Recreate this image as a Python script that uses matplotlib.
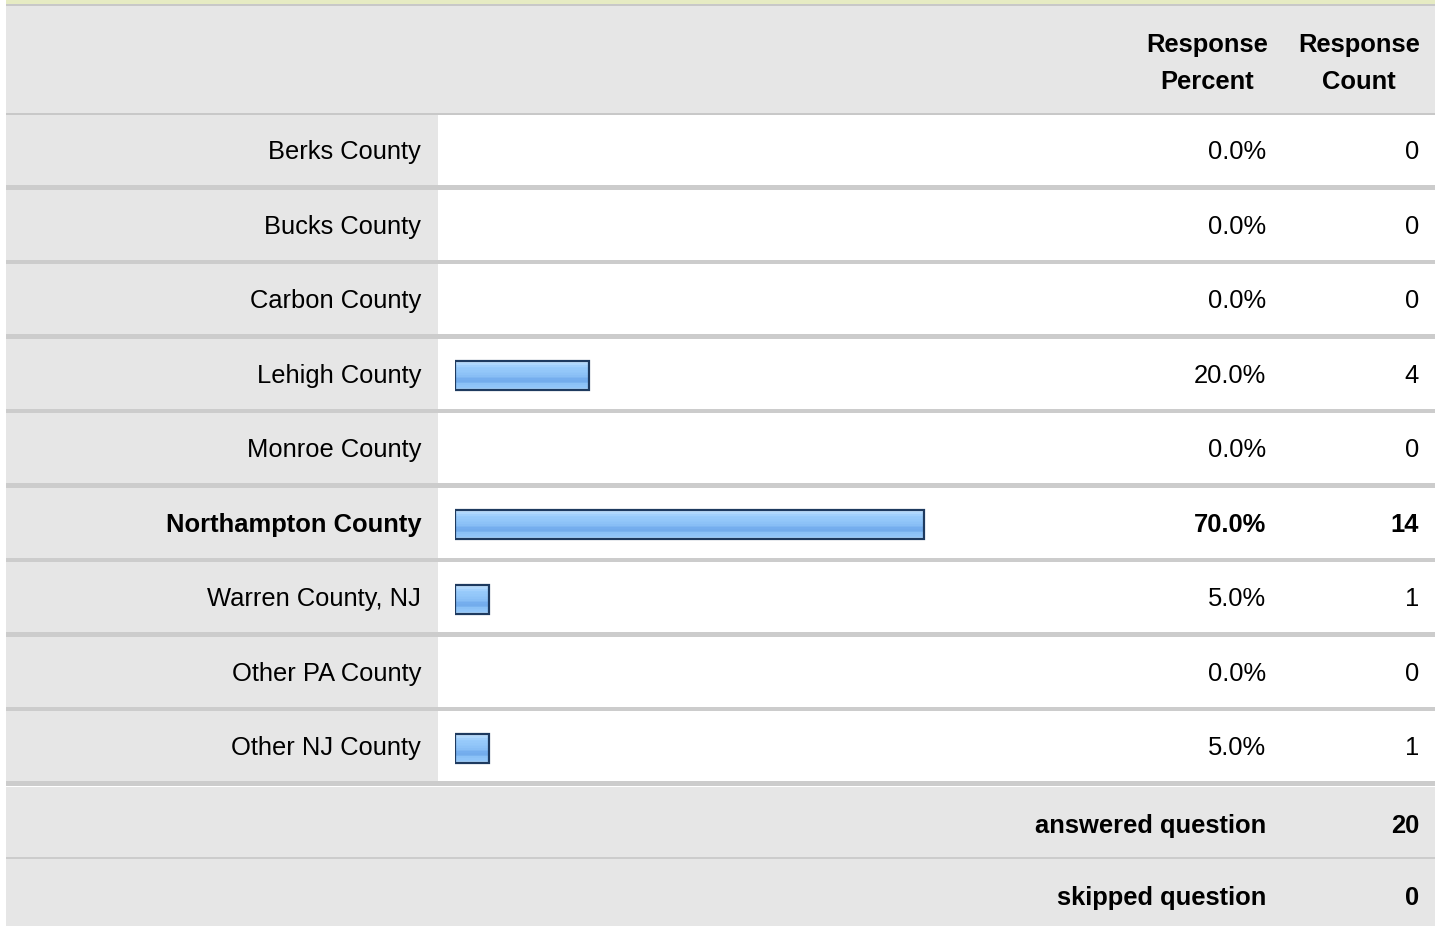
import matplotlib
matplotlib.use("Agg")
import matplotlib.pyplot as plt
import matplotlib.transforms as mtransforms
from matplotlib.patches import Rectangle
from matplotlib.colors import ListedColormap
import numpy as np

# ---------------- data ----------------
categories = ["Berks County", "Bucks County", "Carbon County", "Lehigh County",
              "Monroe County", "Northampton County", "Warren County, NJ",
              "Other PA County", "Other NJ County"]
percents = [0.0, 0.0, 0.0, 20.0, 0.0, 70.0, 5.0, 0.0, 5.0]
counts = [0, 0, 0, 4, 0, 14, 1, 0, 1]
highlight = "Northampton County"
header_percent = ["Response", "Percent"]
header_count = ["Response", "Count"]
answered_label, answered_value = "answered question", 20
skipped_label, skipped_value = "skipped question", 0

# ---------------- style ----------------
plt.rcParams["font.family"] = ["Liberation Sans", "DejaVu Sans"]
FS = 18.4
W, H = 1442, 926
GRAY = "#e6e6e6"
SEP = "#cccccc"

fig = plt.figure(figsize=(W / 100, H / 100), dpi=100)
fig.patch.set_facecolor("white")

# background / layout axes in pixel coordinates
bg = fig.add_axes([0, 0, 1, 1])
bg.set_xlim(0, W)
bg.set_ylim(H, 0)
bg.axis("off")

L, R = 6, 1435
LABEL_R = 438
TOP_BODY = 115
row_pitch = 74.5
n = len(categories)
BODY_END = 782

def rect(x0, y0, x1, y1, color, z=0):
    bg.add_patch(Rectangle((x0, y0), x1 - x0, y1 - y0, facecolor=color,
                           edgecolor="none", zorder=z))

# top strip
rect(L, 0, R, 4, "#e6ebc3")
rect(L, 4, R, 6, "#c8c8c8")
# header
rect(L, 6, R, 113, GRAY)
rect(L, 113, R, 115, "#c8c8c8")
# body
rect(L, TOP_BODY, LABEL_R, BODY_END, GRAY)
rect(LABEL_R, TOP_BODY, R, BODY_END, "white")
for i in range(n):
    y_sep = TOP_BODY + (i + 1) * row_pitch - 4.5
    rect(L, y_sep, R, y_sep + 4.5, SEP, z=1)
# footer
rect(L, BODY_END + 4.5, R, H, GRAY)
rect(L, 857, R, 858.5, SEP)

# header texts
bg.text(1207, 45, header_percent[0], ha="center", va="center", fontsize=FS, fontweight="bold")
bg.text(1207, 82, header_percent[1], ha="center", va="center", fontsize=FS, fontweight="bold")
bg.text(1359, 45, header_count[0], ha="center", va="center", fontsize=FS, fontweight="bold")
bg.text(1359, 82, header_count[1], ha="center", va="center", fontsize=FS, fontweight="bold")

# footer texts
bg.text(1266, 826, answered_label, ha="right", va="center", fontsize=FS, fontweight="bold")
bg.text(1419, 826, str(answered_value), ha="right", va="center", fontsize=FS, fontweight="bold")
bg.text(1266, 898, skipped_label, ha="right", va="center", fontsize=FS, fontweight="bold")
bg.text(1419, 898, str(skipped_value), ha="right", va="center", fontsize=FS, fontweight="bold")

# ---------------- bar axes ----------------
bar_left = 455
px_per_100 = 670
ax_top = TOP_BODY
ax_bottom = TOP_BODY + n * row_pitch
ax = fig.add_axes([bar_left / W, 1 - ax_bottom / H, px_per_100 / W, (ax_bottom - ax_top) / H])
ax.set_xlim(0, 100)
ax.set_ylim(n - 0.5, -0.5)
ax.axis("off")
ax.patch.set_alpha(0)

ypos = np.arange(n)
bars = ax.barh(ypos, percents, height=0.39, facecolor="none",
               edgecolor="#1e3a5f", linewidth=1.6, zorder=3)

grad_colors = ["#d2eaff", "#c4e2fe", "#b0d8fd", "#a2d0fc", "#98cbfb", "#96c9fa",
               "#93c7f9", "#90c5f8", "#8dc2f7", "#88bef5", "#7fb6f1", "#75aeee",
               "#73acec", "#7ab3ef", "#8bc1f6", "#8fc4f8", "#92c6f9", "#a9d3fb"]
cmap = ListedColormap(grad_colors)
grad = np.linspace(0, 1, len(grad_colors)).reshape(-1, 1)
for b, p in zip(bars, percents):
    if p <= 0:
        b.set_visible(False)
        continue
    x0, y0, w, h = b.get_x(), b.get_y(), b.get_width(), b.get_height()
    im = ax.imshow(grad, cmap=cmap, aspect="auto", interpolation="nearest",
                   extent=(x0, x0 + w, y0 + h, y0), origin="upper", zorder=2)
    im.set_clip_path(b)

ax.set_xlim(0, 100)
ax.set_ylim(n - 0.5, -0.5)

# blended transform: x in pixel layout, y in category data
tr = mtransforms.blended_transform_factory(bg.transData, ax.transData)
for i, (cat, p, c) in enumerate(zip(categories, percents, counts)):
    wt = "bold" if cat == highlight else "normal"
    ax.text(421, i, cat, transform=tr, ha="right", va="center",
            fontsize=FS, fontweight=wt, clip_on=False)
    ax.text(1266, i, f"{p:.1f}%", transform=tr, ha="right", va="center",
            fontsize=FS, fontweight=wt, clip_on=False)
    ax.text(1419, i, str(c), transform=tr, ha="right", va="center",
            fontsize=FS, fontweight=wt, clip_on=False)

fig.savefig("out.png", dpi=100)
